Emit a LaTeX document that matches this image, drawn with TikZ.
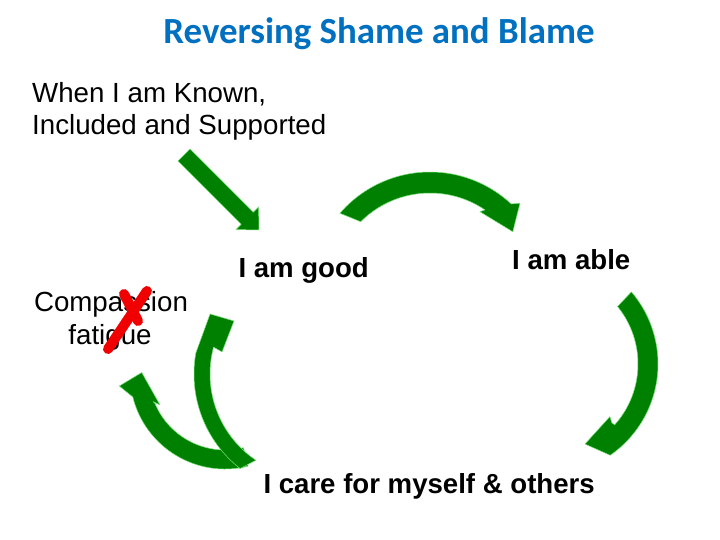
\documentclass[tikz,border=0pt]{standalone}
\usepackage{fontspec}
\setmainfont{Liberation Sans}
\newfontfamily\titlefont{Carlito}
\definecolor{titleblue}{RGB}{0,112,192}
\definecolor{arrowgreen}{RGB}{0,128,0}
\definecolor{rimgreen}{RGB}{120,225,120}
\definecolor{crossred}{RGB}{240,0,0}

\begin{document}
\begin{tikzpicture}[line cap=round,line join=round,x=1bp,y=1bp,
	greenarrow/.style={fill=arrowgreen,draw=rimgreen,line width=0.5bp},
	plainlabel/.style={inner sep=0pt,font=\fontsize{27.8}{32}\selectfont},
	boldlabel/.style={inner sep=0pt,font=\fontsize{27.7}{32}\selectfont\bfseries},
	crossstroke/.style={draw=crossred,line width=10bp,line cap=round}]
	\useasboundingbox (0,0) rectangle (720,540);
	\fill[white] (0,0) rectangle (720,540);
	% centres of the round arrows
	\coordinate (topc) at (430,249);
	\coordinate (rightc) at (547,176);
	\coordinate (leftc) at (225,166);
	\coordinate (midc) at (314,166);
	\coordinate (slantc) at (184,385);
	% texts
	\node[anchor=base,inner sep=0pt,text=titleblue,font=\titlefont\fontsize{37}{44}\selectfont\bfseries] (title) at (379,496) {Reversing Shame and Blame};
	\node[plainlabel,anchor=base west] (known) at (32,437.3) {When I am Known,};
	\node[plainlabel,anchor=base west] (included) at (32,405.7) {Included and Supported};
	\node[boldlabel,anchor=base west] (good) at (238.3,262.3) {I am good};
	\node[boldlabel,anchor=base west] (able) at (512,270) {I am able};
	\node[boldlabel,anchor=base west] (care) at (263.3,46.7) {I care for myself \& others};
	\node[plainlabel,anchor=base] (compassion) at (111,228.3) {Compassion};
	\node[plainlabel,anchor=base] (fatigue) at (110,195) {fatigue};
	% straight arrow
	\begin{scope}[shift={(slantc)},rotate=-45]
		\draw[greenarrow] (0,8.5) -- (89.5,8.5) -- (89.5,16) -- (106,0) -- (89.5,-16) -- (89.5,-8.5) -- (0,-8.5) -- cycle;
	\end{scope}
	% top arrow
	\begin{scope}[shift={(topc)}]
		\draw[greenarrow] (139.2:119) arc[start angle=139.2,end angle=47,radius=119] -- (44.3:125.7) -- (35.6:101.8) -- (57.8:93.7) -- (55.8:98) arc[start angle=55.8,end angle=135,radius=98] -- cycle;
	\end{scope}
	% right arrow
	\begin{scope}[shift={(rightc)}]
		\draw[greenarrow] (40.5:111) arc[start angle=40.5,end angle=-55.3,radius=111] -- (-64.6:88.6) -- (-39.9:82) -- (-42.2:87.4) -- (-42:91) arc[start angle=-42,end angle=39.2,radius=91] -- cycle;
	\end{scope}
	% left arrows
	\begin{scope}[shift={(leftc)}]
		\draw[greenarrow] (284:95) arc[start angle=284,end angle=194,radius=95] -- (186.5:106.4) -- (179:83.3) -- (205.5:72) -- (201:77) -- (203:76) arc[start angle=203,end angle=284,radius=76] -- cycle;
	\end{scope}
	\begin{scope}[shift={(midc)}]
		\draw[greenarrow] (232:120) arc[start angle=232,end angle=170,radius=120] -- (150:120) -- (146.5:96) -- (166.5:94.6) -- (165:104) arc[start angle=165,end angle=236,radius=104] -- cycle;
	\end{scope}
	% cross
	\draw[crossstroke] (108,191) -- (147,249);
	\draw[crossstroke] (124,246) -- (138,219);
\end{tikzpicture}
\end{document}
